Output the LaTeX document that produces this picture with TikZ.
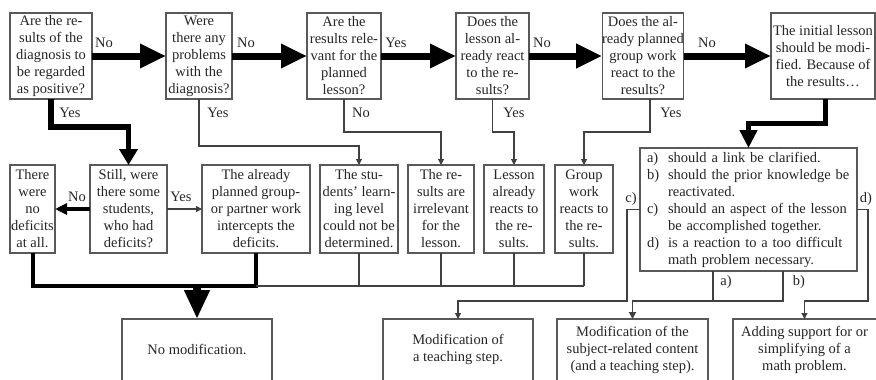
\documentclass[tikz,border=0pt]{standalone}
\usepackage{fontspec}
\setmainfont{Liberation Serif}
\usetikzlibrary{arrows.meta}
\begin{document}
\begin{tikzpicture}[x=1pt,y=1pt,
 every node/.style={font=\fontsize{14.5}{17}\selectfont, text=black!85},
 box/.style={draw=black!65, line width=1.1pt, rectangle, inner sep=0pt, outer sep=0pt, align=center},
 txt/.style={rectangle, inner sep=0pt, outer sep=0pt, align=center},
 lbl/.style={inner sep=0pt},
 conn/.style={draw=black!75, line width=1.1pt},
 tarrow/.style={conn, -{Triangle[length=6pt,width=6pt]}},
 bigarrow/.style={draw=black, line width=7pt, -{Triangle[length=26pt,width=23pt]}},
 yesarrow/.style={draw=black, line width=5.5pt, -{Triangle[length=16pt,width=18pt]}},
 modarrow/.style={draw=black, line width=5pt, -{Triangle[length=18pt,width=17pt]}},
 midarrow/.style={draw=black, line width=3.5pt, -{Triangle[length=12pt,width=11pt]}},
 collect/.style={draw=black, line width=4pt},
 downarrow/.style={draw=black, line width=8.5pt, -{Triangle[length=29pt,width=24pt]}},
]
\useasboundingbox (0,0) rectangle (876,-380);
\fill[white] (0,0) rectangle (876,-380);
\coordinate (bot) at (0,-380);
\coordinate (coll) at (0,-286);
\coordinate (low) at (0,-301);

% top row
\node[box, minimum width=82pt, minimum height=86pt] (b1) at (51,-56) {Are the re-\\sults of the\\diagnosis to\\be regarded\\as positive?};
\node[box, minimum width=66pt, minimum height=86pt] (b2) at (199,-56) {Were\\there any\\problems\\with the\\diagnosis?};
\node[box, minimum width=74pt, minimum height=86pt] (b3) at (344,-56) {Are the\\results rele-\\vant for the\\planned\\lesson?};
\node[box, minimum width=73pt, minimum height=86pt] (b4) at (492.5,-56) {Does the\\lesson al-\\ready react\\to the re-\\sults?};
\node[box, minimum width=78pt, minimum height=86pt] (b5) at (643,-56) {Does the al-\\ready planned\\group work\\react to the\\results?};
\node[box, minimum width=104pt, minimum height=86pt] (b6) at (823,-56) {The initial lesson\\should be modi-\\fied. Because of\\the results\ldots};

% second row
\node[box, minimum width=45pt, minimum height=88pt] (r1) at (32.5,-209) {There\\were\\no\\deficits\\at all.};
\node[box, minimum width=77pt, minimum height=88pt] (r2) at (128.5,-209) {Still, were\\there some\\students,\\who had\\deficits?};
\node[box, minimum width=108pt, minimum height=88pt] (r3) at (256,-209) {The already\\planned group-\\or partner work\\intercepts the\\deficits.};
\node[box, minimum width=78pt, minimum height=88pt] (r4) at (359,-209) {The stu-\\dents’ learn-\\ing level\\could not be\\determined.};
\node[box, minimum width=66pt, minimum height=88pt] (r5) at (441,-209) {The re-\\sults are\\irrelevant\\for the\\lesson.};
\node[box, minimum width=60pt, minimum height=88pt] (r6) at (514,-209) {Lesson\\already\\reacts to\\the re-\\sults.};
\node[box, minimum width=58pt, minimum height=88pt] (r7) at (584,-209) {Group\\work\\reacts to\\the re-\\sults.};
\node[box, minimum width=217pt, minimum height=123pt, text width=203pt, align=left, inner xsep=7pt] (big) at (748.5,-209.5) {%
\makebox[21pt][l]{a)}should a link be clarified.\\
\makebox[21pt][l]{b)}should the prior knowledge be\\
\hspace*{21pt}reactivated.\\
\makebox[21pt][l]{c)}should an aspect of the lesson\\
\hspace*{21pt}be accomplished together.\\
\makebox[21pt][l]{d)}is a reaction to a too difficult\\
\hspace*{21pt}math problem necessary.};

% bottom row (cut by lower edge)
\node[txt, minimum width=150pt, minimum height=61pt] (m1) at (197,-349.5) {No modification.};
\node[txt, minimum width=150pt, minimum height=61pt] (m2) at (458,-349.5) {Modification of\\a teaching step.};
\node[txt, minimum width=151pt, minimum height=61pt] (m3) at (632.5,-349.5) {Modification of the\\subject-related content\\(and a teaching step).};
\node[txt, minimum width=143pt, minimum height=61pt] (m4) at (804.5,-349.5) {Adding support for or\\simplifying of a\\math problem.};
\foreach \m in {m1,m2,m3} \draw[draw=black!65, line width=1.1pt] (\m.north west |- bot) -- (\m.north west) -- (\m.north east) -- (\m.north east |- bot);
\draw[draw=black!65, line width=1.1pt] (m4.north west |- bot) -- (m4.north west) -- ([xshift=-0.5pt]m4.north east);

% main row arrows
\draw[bigarrow] (b1.east) -- (b2.west);
\draw[bigarrow] (b2.east) -- (b3.west);
\draw[bigarrow] (b3.east) -- (b4.west);
\draw[bigarrow] (b4.east) -- (b5.west);
\draw[bigarrow] (b5.east) -- (b6.west);
\node[lbl] (n1) at (104,-43) {No};
\node[lbl] (n2) at (246,-43) {No};
\node[lbl] (n3) at (396,-43) {Yes};
\node[lbl] (n4) at (542,-43) {No};
\node[lbl] (n5) at (707,-43) {No};

% downward branches
\draw[yesarrow] (b1.south) -- ++(0,-28) -| (r2.north);
\draw[tarrow] (b2.south) -- ++(0,-47) -| (r4.north);
\draw[tarrow] (b3.south) -- ++(0,-33) -| (r5.north);
\draw[tarrow] (b4.south) -- ++(0,-33) -| (r6.north);
\draw[tarrow] ([xshift=7pt]b5.south) -- ++(0,-33) -| (r7.north);
\draw[modarrow] ([xshift=2pt]b6.south) -- ++(0,-24) -| (big.north);
\node[lbl] (y1) at (70,-113) {Yes};
\node[lbl] (y2) at (218,-113) {Yes};
\node[lbl] (y3) at (361,-113) {No};
\node[lbl] (y4) at (514,-113) {Yes};
\node[lbl] (y5) at (671,-113) {Yes};

% second row arrows
\draw[midarrow] (r2.west) -- (r1.east);
\draw[tarrow] (r2.east) -- (r3.west);
\node[lbl] (s1) at (77,-197) {No};
\node[lbl] (s2) at (181,-197) {Yes};

% collector to "No modification."
\draw[collect] (r1.south) |- (r3.south |- coll) -- (r3.south);
\draw[conn] (r3.south |- coll) -- (r7.south |- coll);
\foreach \n in {r4,r5,r6,r7} \draw[conn] (\n.south) -- (\n.south |- coll);
\draw[downarrow] ([yshift=2pt]m1.north |- coll) -- (m1.north);

% branches of the big box
\draw[tarrow] (big.west) -- ([xshift=-13pt]big.west) |- (m2.north |- low) -- (m2.north);
\draw[tarrow] (big.east) -- ([xshift=11pt]big.east) |- (m4.north |- low) -- (m4.north);
\draw[conn, line width=1.8pt, -{Triangle[length=7pt,width=7pt]}] ([xshift=34.5pt]big.south) |- (m3.north |- low) -- (m3.north);
\draw[conn] ([xshift=-35.5pt]big.south) -- ([xshift=-35.5pt]big.south |- low);
\node[lbl] (lc) at (631,-199) {c)};
\node[lbl] (ld) at (866,-199) {d)};
\node[lbl] (la) at (726,-282) {a)};
\node[lbl] (lb) at (799,-282) {b)};
\end{tikzpicture}
\end{document}
